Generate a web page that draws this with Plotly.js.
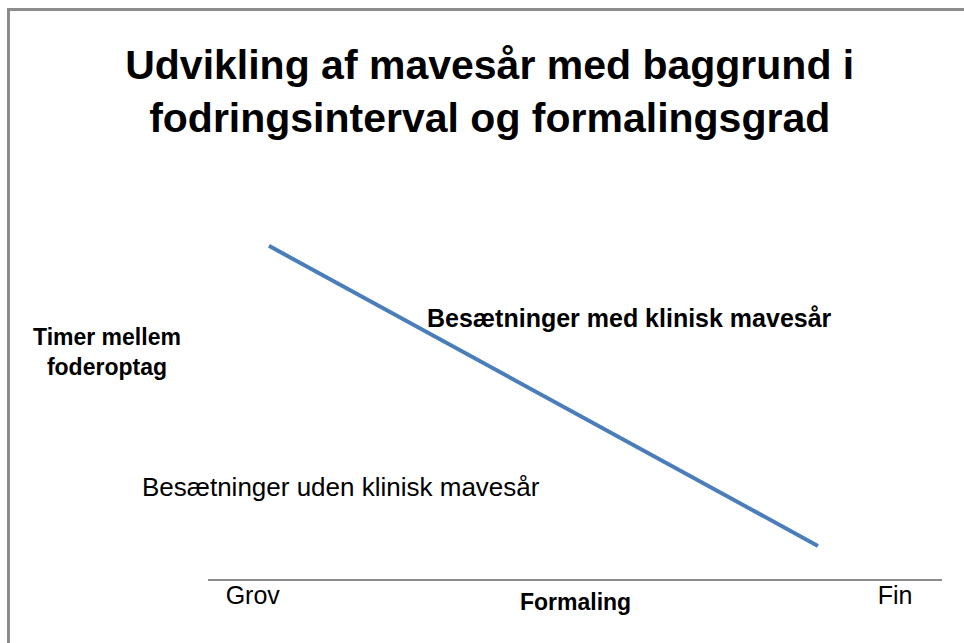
<!DOCTYPE html>
<html>
<head>
<meta charset="utf-8">
<script src="https://cdn.plot.ly/plotly-3.0.1.min.js"></script>
<style>
html,body{margin:0;padding:0;background:#fff;}
#chart{width:964px;height:643px;}
</style>
</head>
<body>
<div id="chart"></div>
<script>
// Data (schematic chart, arbitrary 0-100 scales)
const lineX = [8.3, 83.1];
const lineY = [83.5, 8.3];
const tickPositions = [6.1, 93.6];
const tickLabels = ["Grov", "Fin"];
const titleText = "Udvikling af mavesår med baggrund i<br>fodringsinterval og formalingsgrad";
const xTitle = "Formaling";
const yTitle = "Timer mellem<br>foderoptag";
const labelWith = "Besætninger med klinisk mavesår";
const labelWithout = "Besætninger uden klinisk mavesår";

const FONT = "'Liberation Sans', Arial, sans-serif";

const trace = {
  x: lineX, y: lineY, type: 'scatter', mode: 'lines',
  line: {color: '#4a7ebb', width: 4}, hoverinfo: 'skip', showlegend: false
};

const layout = {
  width: 964, height: 643,
  margin: {l: 208, r: 22, t: 180, b: 64},
  paper_bgcolor: '#ffffff', plot_bgcolor: '#ffffff',
  font: {family: FONT, color: '#000'},
  title: {
    text: '<b>' + titleText + '</b>',
    font: {family: FONT, size: 41, color: '#000'},
    x: 0.508, xref: 'container', xanchor: 'center',
    y: 1 - 78.5/643, yref: 'container', yanchor: 'middle'
  },
  xaxis: {
    range: [0, 100], showgrid: false, zeroline: false,
    showline: true, linecolor: '#8c8c8c', linewidth: 1.5,
    ticks: '', tickvals: tickPositions, ticktext: tickLabels,
    ticklabelstandoff: -7,
    tickfont: {family: FONT, size: 25, color: '#000'},
    fixedrange: true
  },
  yaxis: {
    range: [0, 100], showgrid: false, zeroline: false, showline: false,
    showticklabels: false, ticks: '', fixedrange: true
  },
  annotations: [
    {text: '<b>' + labelWith + '</b>', x: 29.6, y: 65.4, xref: 'x', yref: 'y',
     xanchor: 'left', yanchor: 'middle', showarrow: false,
     font: {family: FONT, size: 25, color: '#000'}},
    {text: labelWithout, x: (140-208)/734, y: (579-487)/399, xref: 'paper', yref: 'paper',
     xanchor: 'left', yanchor: 'middle', showarrow: false,
     font: {family: FONT, size: 26, color: '#000'}},
    {text: '<b>' + yTitle + '</b>', x: (107-208)/734, y: (579-352)/399, xref: 'paper', yref: 'paper',
     xanchor: 'center', yanchor: 'middle', align: 'center', showarrow: false,
     font: {family: FONT, size: 23, color: '#000'}},
    {text: '<b>' + xTitle + '</b>', x: 0.5, y: (579-602)/399, xref: 'paper', yref: 'paper',
     xanchor: 'center', yanchor: 'middle', showarrow: false,
     font: {family: FONT, size: 23, color: '#000'}}
  ],
  shapes: [
    {type: 'path', xref: 'paper', yref: 'paper',
     path: 'M ' + ((8.5-208)/734) + ' ' + ((579-650)/399) + ' L ' + ((8.5-208)/734) + ' ' + ((579-9.5)/399) + ' L ' + ((980-208)/734) + ' ' + ((579-9.5)/399),
     line: {color: '#8c8c8c', width: 3}}
  ]
};

Plotly.newPlot('chart', [trace], layout, {staticPlot: true, displayModeBar: false});
</script>
</body>
</html>
